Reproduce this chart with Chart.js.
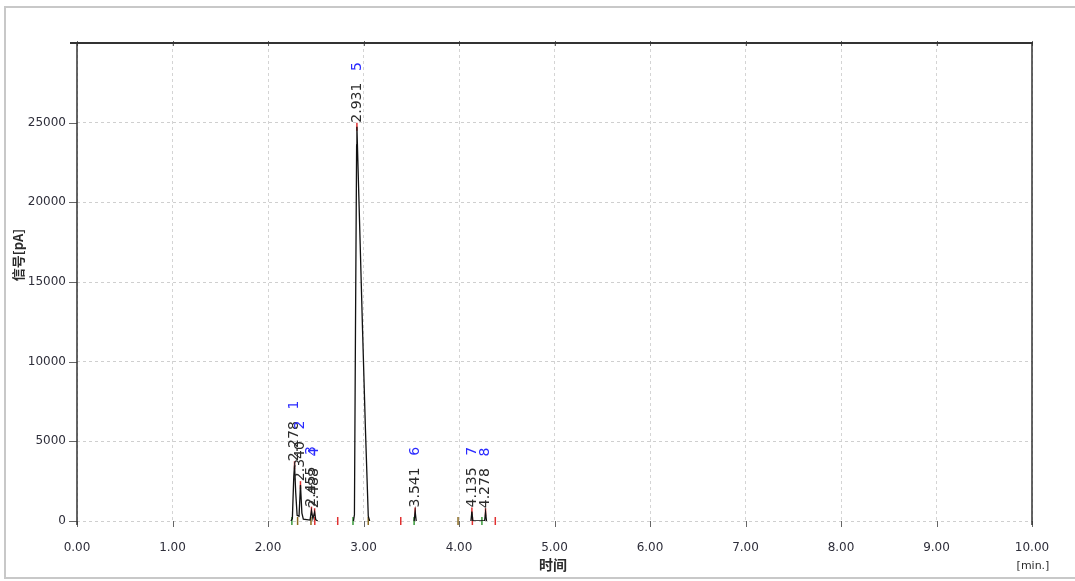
<!DOCTYPE html>
<html>
<head>
<meta charset="utf-8">
<script src="https://cdn.jsdelivr.net/npm/chart.js@4/dist/chart.umd.min.js"></script>
<style>
  html, body { margin: 0; padding: 0; background: #fff; }
  #wrap { position: relative; width: 1075px; height: 581px; }
</style>
</head>
<body>
<div id="wrap"><canvas id="chrom"></canvas></div>
<script>
// 色谱数据 (时间 min, 信号 pA); null = 断开
const traceTime   = [2.24, 2.255, 2.27, 2.278, 2.29, 2.305, 2.325, 2.34, 2.355, 2.37, 2.44, 2.455, 2.47, 2.488, 2.50, 2.52,
                     2.60,
                     2.895, 2.905, 2.916, 2.928, 2.931, 2.96, 2.99, 3.02, 3.05, 3.065,
                     3.30,
                     3.53, 3.541, 3.552,
                     3.90,
                     4.125, 4.135, 4.145, 4.268, 4.278, 4.288];
const traceSignal = [0, 150, 2800, 3500, 1800, 350, 300, 2250, 500, 120, 60, 650, 150, 550, 80, 0,
                     null,
                     0, 400, 12000, 23600, 24750, 18500, 12000, 5800, 300, 0,
                     null,
                     0, 600, 0,
                     null,
                     0, 600, 0, 0, 550, 0];

// 峰表
const peakIds     = ['1', '2', '3', '4', '5', '6', '7', '8'];
const peakTimes   = [2.278, 2.340, 2.455, 2.488, 2.931, 3.541, 4.135, 4.278];
const peakHeights = [3500, 2250, 650, 550, 24750, 600, 600, 550];

// 积分标记 (基线)
const markTimes = [2.25, 2.31, 2.45, 2.49, 2.73, 2.89, 3.05, 3.39, 3.53, 3.99, 4.14, 4.24, 4.38];
const markTypes = ['start', 'valley', 'valley', 'end', 'end', 'start', 'valley', 'end', 'start', 'valley', 'end', 'start', 'end'];

// 坐标轴
const xTicks = [0, 1, 2, 3, 4, 5, 6, 7, 8, 9, 10];
const yTicks = [0, 5000, 10000, 15000, 20000, 25000];

const markColors = { start: '#3a9a3a', end: '#e03030', valley: '#8a6a20' };

const framePlugin = {
    id: 'frame',
    beforeDraw(chart) {
        const ctx = chart.ctx;
        ctx.save();
        ctx.strokeStyle = '#c8c8c8';
        ctx.lineWidth = 2;
        ctx.strokeRect(5, 7, 1080, 571);
        ctx.restore();
    },
    afterDraw(chart) {
        const ctx = chart.ctx;
        const a = chart.chartArea;
        const xs = chart.scales.x, ys = chart.scales.y;
        ctx.save();

        // 刻度线
        ctx.strokeStyle = '#666';
        ctx.lineWidth = 1;
        xTicks.forEach(v => {
            const px = Math.round(xs.getPixelForValue(v)) + 0.5;
            ctx.beginPath(); ctx.moveTo(px, a.bottom); ctx.lineTo(px, a.bottom + 6); ctx.stroke();
            ctx.beginPath(); ctx.moveTo(px, a.top - 2); ctx.lineTo(px, a.top + 3); ctx.stroke();
        });
        yTicks.forEach(v => {
            const py = Math.round(ys.getPixelForValue(v)) + 0.5;
            ctx.beginPath(); ctx.moveTo(a.left - 8, py); ctx.lineTo(a.left, py); ctx.stroke();
        });

        // 外框
        ctx.strokeStyle = '#333';
        ctx.lineWidth = 2;
        ctx.beginPath();
        ctx.moveTo(a.left - 7, a.top);
        ctx.lineTo(a.right + 1, a.top);
        ctx.stroke();
        ctx.lineWidth = 1.5;
        ctx.beginPath();
        ctx.moveTo(a.right, a.top);
        ctx.lineTo(a.right, a.bottom + 4);
        ctx.stroke();
        ctx.beginPath();
        ctx.moveTo(a.left, a.top);
        ctx.lineTo(a.left, a.bottom + 4);
        ctx.stroke();

        // 峰标签
        peakIds.forEach((id, i) => {
            const px = xs.getPixelForValue(peakTimes[i]);
            const py = ys.getPixelForValue(peakHeights[i]);
            const label = peakTimes[i].toFixed(3);
            ctx.save();
            ctx.translate(px, py);
            ctx.rotate(-Math.PI / 2);
            ctx.font = '14px "DejaVu Sans"';
            ctx.textBaseline = 'middle';
            ctx.textAlign = 'left';
            ctx.fillStyle = '#2b2b2b';
            ctx.fillText(label, 4, 0);
            const w = ctx.measureText(label).width;
            ctx.fillStyle = '#2a2aff';
            ctx.textAlign = 'center';
            ctx.fillText(id, 4 + w + 16, 0);
            ctx.restore();
        });

        // 轴标题
        ctx.fillStyle = '#2b2b2b';
        ctx.font = 'bold 13px "Noto Sans CJK SC"';
        ctx.textAlign = 'center';
        ctx.textBaseline = 'middle';
        ctx.save();
        ctx.translate(18, 255);
        ctx.rotate(-Math.PI / 2);
        ctx.fillText('信号[pA]', 0, 0);
        ctx.restore();
        ctx.font = 'bold 14px "Noto Sans CJK SC"';
        ctx.fillText('时间', 553, 565);
        ctx.font = '11px "DejaVu Sans"';
        ctx.fillText('[min.]', 1033, 566);

        ctx.restore();
    }
};

new Chart(document.getElementById('chrom'), {
    type: 'line',
    data: {
        datasets: [
            {
                label: 'signal',
                data: traceTime.map((t, i) => ({ x: t, y: traceSignal[i] })),
                borderColor: '#111',
                borderWidth: 1.3,
                pointRadius: 0,
                spanGaps: false,
                tension: 0
            },
            {
                label: 'marks',
                data: markTimes.map(t => ({ x: t, y: 0 })),
                showLine: false,
                pointStyle: 'line',
                rotation: 90,
                pointRadius: 4,
                pointBorderWidth: 1.5,
                pointBorderColor: markTypes.map(k => markColors[k]),
                clip: false
            },
            {
                label: 'apex',
                data: peakTimes.map((t, i) => ({ x: t, y: peakHeights[i] })),
                showLine: false,
                pointStyle: 'line',
                rotation: 90,
                pointRadius: 4,
                pointBorderWidth: 1.5,
                pointBorderColor: '#e03030',
                clip: false
            }
        ]
    },
    options: {
        responsive: true,
        maintainAspectRatio: false,
        animation: false,
        layout: { padding: { left: 0, top: 43, right: 43, bottom: 0 } },
        plugins: {
            legend: { display: false },
            tooltip: { enabled: false }
        },
        scales: {
            x: {
                type: 'linear',
                min: 0,
                max: 10,
                afterBuildTicks: s => { s.ticks = xTicks.map(v => ({ value: v })); },
                afterFit: s => { s.height = 60; },
                ticks: {
                    autoSkip: false,
                    maxRotation: 0,
                    padding: 12,
                    color: '#2e2e3a',
                    font: { family: 'DejaVu Sans', size: 12 },
                    callback: v => Number(v).toFixed(2)
                },
                grid: { color: '#d4d4d4', tickLength: 8, tickColor: 'transparent' },
                border: { display: false, dash: [3, 3] }
            },
            y: {
                min: 0,
                max: 30000,
                afterBuildTicks: s => { s.ticks = yTicks.map(v => ({ value: v })); },
                afterFit: s => { s.width = 77; },
                ticks: {
                    padding: 3,
                    color: '#2e2e3a',
                    font: { family: 'DejaVu Sans', size: 12 },
                    callback: v => String(v)
                },
                grid: { color: '#cfcfcf', tickLength: 8, tickColor: 'transparent' },
                border: { display: false, dash: [3, 3] }
            }
        }
    },
    plugins: [framePlugin]
});
</script>
</body>
</html>
